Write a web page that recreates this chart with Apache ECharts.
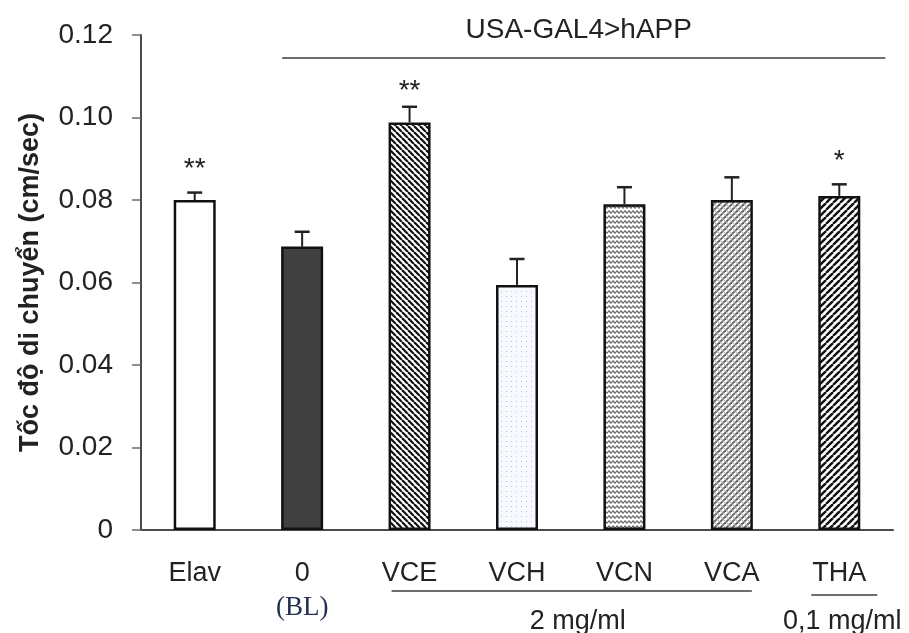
<!DOCTYPE html>
<html>
<head>
<meta charset="utf-8">
<script src="https://cdn.jsdelivr.net/npm/echarts@6/dist/echarts.min.js"></script>
<style>
  html, body { margin: 0; padding: 0; background: #fff; }
  #chart { width: 909px; height: 633px; }
</style>
</head>
<body>
<div id="chart"></div>
<script>
// Walking speed of flies per group (mean ± SEM)
const categories = ['Elav', '0', 'VCE', 'VCH', 'VCN', 'VCA', 'THA'];
const means = [0.0800, 0.0687, 0.0988, 0.0594, 0.0790, 0.0800, 0.0810];
const sems = [0.0018, 0.0036, 0.0038, 0.0063, 0.0041, 0.0055, 0.0028];
const significance = ['**', '', '**', '', '', '', '*'];
const yTicks = { min: 0, max: 0.12, step: 0.02 };

const FONT = '"Liberation Sans", Arial, sans-serif';

// ---- fill patterns -------------------------------------------------------
function tile(w, h, draw) {
  const c = document.createElement('canvas');
  c.width = w; c.height = h;
  const g = c.getContext('2d');
  g.fillStyle = '#fff';
  g.fillRect(0, 0, w, h);
  draw(g, w, h);
  return { image: c, repeat: 'repeat' };
}
function diag(g, s, dir, color, lw) {
  g.strokeStyle = color; g.lineWidth = lw;
  for (let k = -1; k <= 1; k++) {
    g.beginPath();
    if (dir > 0) { g.moveTo(k * s, s); g.lineTo(k * s + s, 0); }
    else { g.moveTo(k * s, 0); g.lineTo(k * s + s, s); }
    g.stroke();
  }
}
const fills = [
  '#ffffff',
  '#404040',
  tile(6, 6, (g, w) => diag(g, w, -1, '#111', 2.2)),
  tile(5, 5, (g) => { g.fillStyle = '#f7f9fe'; g.fillRect(0, 0, 5, 5); g.fillStyle = '#b8c6e6'; g.fillRect(1, 1, 1, 1); }),
  tile(4, 5, (g) => {
    g.strokeStyle = '#707070'; g.lineWidth = 1.5; g.beginPath();
    g.moveTo(0, 2); g.lineTo(1, 1); g.lineTo(3, 3); g.lineTo(4, 2); g.stroke();
  }),
  tile(6, 6, (g, w) => { diag(g, w, 1, '#5e5e5e', 1.8); diag(g, w, -1, '#b0b0b0', 1.2); }),
  tile(7, 7, (g, w) => diag(g, w, 1, '#111', 2.4))
];

// ---- chart ---------------------------------------------------------------
const chart = echarts.init(document.getElementById('chart'), null, { renderer: 'canvas' });

const starGap = [30, 0, 22, 0, 0, 0, 30];

const option = {
  animation: false,
  backgroundColor: '#fff',
  grid: { left: 141, right: 16, top: 35, bottom: 103 },
  xAxis: {
    type: 'category',
    data: categories,
    axisLine: { lineStyle: { color: '#4a4a4a', width: 2 } },
    axisTick: { show: false },
    axisLabel: { color: '#222', fontFamily: FONT, fontSize: 27, margin: 30 }
  },
  yAxis: {
    type: 'value',
    min: yTicks.min, max: yTicks.max, interval: yTicks.step,
    name: 'Tốc độ di chuyển (cm/sec)',
    nameLocation: 'middle',
    nameGap: 97,
    nameRotate: 90,
    nameTextStyle: { color: '#222', fontFamily: FONT, fontSize: 27, fontWeight: 'bold' },
    axisLine: { show: true, lineStyle: { color: '#4a4a4a', width: 2 } },
    axisTick: { show: true, length: 9, lineStyle: { color: '#6a6a6a', width: 1.5 } },
    splitLine: { show: false },
    axisLabel: {
      color: '#222', fontFamily: FONT, fontSize: 28, margin: 28,
      formatter: v => (v === 0 ? '0' : v.toFixed(2))
    }
  },
  series: [
    {
      type: 'bar',
      barWidth: 42,
      data: means.map((v, i) => ({
        value: v,
        itemStyle: { color: fills[i], borderColor: '#111', borderWidth: 2.5 }
      })),
      z: 2
    },
    {
      // error bars with significance markers
      type: 'custom',
      z: 3,
      data: means.map((v, i) => [i, v, sems[i]]),
      renderItem: (params, api) => {
        const i = api.value(0), m = api.value(1), e = api.value(2);
        const base = api.coord([i, m]);
        const top = api.coord([i, m + e]);
        const children = [
          { type: 'line', shape: { x1: base[0], y1: base[1], x2: top[0], y2: top[1] },
            style: { stroke: '#222', lineWidth: 2 } },
          { type: 'line', shape: { x1: top[0] - 7.5, y1: top[1], x2: top[0] + 7.5, y2: top[1] },
            style: { stroke: '#222', lineWidth: 2.5 } }
        ];
        const s = significance[i];
        if (s) {
          children.push({
            type: 'text',
            style: {
              text: s, x: top[0], y: top[1] - starGap[i] + 7,
              align: 'center', verticalAlign: 'middle',
              fill: '#222', font: '28px ' + FONT
            }
          });
        }
        return { type: 'group', children };
      }
    }
  ]
};
chart.setOption(option);

// ---- group brackets and dose annotations ---------------------------------
const cx = i => chart.convertToPixel({ xAxisIndex: 0 }, categories[i]);
const lineStyle = { stroke: '#6e6e6e', lineWidth: 2 };
const txt = (text, x, y, extra) => ({
  type: 'text', x, y,
  style: Object.assign({ text, align: 'center', verticalAlign: 'middle',
    fill: '#222', font: '27px ' + FONT }, extra || {})
});
chart.setOption({
  graphic: [
    { type: 'line', shape: { x1: cx(1) - 20, y1: 58, x2: cx(6) + 46, y2: 58 }, style: lineStyle },
    txt('USA-GAL4>hAPP', (cx(1) + cx(6)) / 2 + 8, 30, { font: '28px ' + FONT }),
    txt('(BL)', cx(1), 608, { font: '27px "Liberation Serif", "Times New Roman", serif', fill: '#22304f' }),
    { type: 'line', shape: { x1: cx(2) - 18, y1: 591, x2: cx(5) + 20, y2: 591 }, style: lineStyle },
    txt('2 mg/ml', (cx(2) + cx(5)) / 2 + 7, 622),
    { type: 'line', shape: { x1: cx(6) - 28, y1: 595, x2: cx(6) + 38, y2: 595 }, style: lineStyle },
    txt('0,1 mg/ml', cx(6) + 3, 622)
  ]
});
</script>
</body>
</html>
